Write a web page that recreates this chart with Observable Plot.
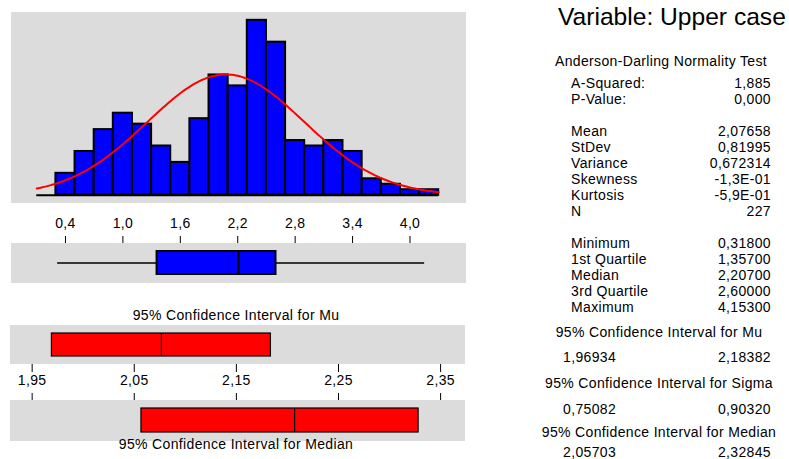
<!DOCTYPE html>
<html><head><meta charset="utf-8">
<script src="https://cdn.jsdelivr.net/npm/d3@7"></script>
<script src="https://cdn.jsdelivr.net/npm/@observablehq/plot@0.6"></script>
<style>
body{margin:0;background:#fff;}
#chart{position:relative;width:789px;height:459px;overflow:hidden;font-family:"Liberation Sans",Arial,sans-serif;}
#chart > svg{position:absolute;}
</style></head><body><div id="chart"></div>
<script>
// ---- data ----
const variableName = "Upper case";
const binStart = [0.1,0.3,0.5,0.7,0.9,1.1,1.3,1.5,1.7,1.9,2.1,2.3,2.5,2.7,2.9,3.1,3.3,3.5,3.7,3.9,4.1];
const binWidth = 0.2;
const counts   = [0,4,8,12,15,13,9,6,14,22,20,32,28,10,9,10,8,3,2,1,1];
const histTicks = [0.4,1.0,1.6,2.2,2.8,3.4,4.0];
const ciTicks = [1.95,2.05,2.15,2.25,2.35];
const mean = 2.07658, stdev = 0.81995, nObs = 227;
const minimum = 0.318, quartile1 = 1.357, median = 2.207, quartile3 = 2.6, maximum = 4.153;
const ciMu = [1.96934, 2.18382];
const ciSigma = [0.75082, 0.90320];
const ciMedian = [2.05703, 2.32845];
const adLabels = ["A-Squared:", "P-Value:"];
const adValues = ["1,885", "0,000"];
const momentLabels = ["Mean","StDev","Variance","Skewness","Kurtosis","N"];
const momentValues = ["2,07658","0,81995","0,672314","-1,3E-01","-5,9E-01","227"];
const quantLabels = ["Minimum","1st Quartile","Median","3rd Quartile","Maximum"];
const quantValues = ["0,31800","1,35700","2,20700","2,60000","4,15300"];
const ciTitles = ["95% Confidence Interval for Mu","95% Confidence Interval for Sigma","95% Confidence Interval for Median"];
const ciValueText = [["1,96934","2,18382"],["0,75082","0,90320"],["2,05703","2,32845"]];

// ---- helpers ----
const comma = f => d => d3.format(f)(d).replace(".", ",");
const GRAY = "#dcdcdc";
const FONT = {fontFamily:"Liberation Sans, Arial, sans-serif", fontSize:"14px", letterSpacing:"0.35px", color:"black", background:"transparent", overflow:"visible"};
const histDomain = [-0.164, 4.58];
const ciDomain = [1.9288, 2.3734];
const chart = document.getElementById("chart");
function place(svg, left, top){ svg.style.left = left+"px"; svg.style.top = top+"px"; chart.appendChild(svg); }

const histData = binStart.map((x0,i)=>({x1:x0, x2:x0+binWidth, count:counts[i]}));
const lastEdge = binStart[binStart.length-1] + binWidth;
const curve = d3.range(binStart[0], lastEdge + 1e-9, 0.02).map(x => ({
  x, y: nObs*binWidth*Math.exp(-0.5*((x-mean)/stdev)**2)/(stdev*Math.sqrt(2*Math.PI))
}));

// ---- histogram ----
place(Plot.plot({
  width:454, height:190, margin:0, style:FONT,
  x:{domain:histDomain, axis:null},
  y:{domain:[-1.34,33.43], axis:null},
  marks:[
    Plot.frame({fill:GRAY, stroke:GRAY}),
    Plot.ruleY([0], {x1:binStart[0], x2:lastEdge, stroke:"black", strokeWidth:2}),
    Plot.rect(histData, {x1:"x1", x2:"x2", y1:0, y2:"count", fill:"#0000ff", stroke:"black", strokeWidth:2}),
    Plot.line(curve, {x:"x", y:"y", stroke:"#ff0000", strokeWidth:2})
  ]
}), 11, 12);

// ---- boxplot with axis ----
const box = [{name:variableName, min:minimum, q1:quartile1, med:median, q3:quartile3, max:maximum}];
place(Plot.plot({
  width:454, height:79, marginTop:40, marginBottom:0, marginLeft:0, marginRight:0, style:FONT,
  x:{domain:histDomain, axis:"top", ticks:histTicks, tickFormat:comma(".1f"), tickSize:8, tickPadding:8, label:null},
  y:{domain:[variableName], padding:0.25, axis:null},
  marks:[
    Plot.frame({fill:GRAY, stroke:GRAY}),
    Plot.ruleY(box, {y:"name", x1:"min", x2:"max", stroke:"black", strokeWidth:1.5}),
    Plot.barX(box, {y:"name", x1:"q1", x2:"q3", fill:"#0000ff", stroke:"black", strokeWidth:2}),
    Plot.tickX(box, {y:"name", x:"med", stroke:"black", strokeWidth:2})
  ]
}), 11, 203);

// ---- CI for Mu ----
const mu = [{name:"Mu", lo:ciMu[0], hi:ciMu[1], c:mean}];
place(Plot.plot({
  width:454, height:62, marginTop:0, marginBottom:24, marginLeft:0, marginRight:0, style:FONT,
  x:{domain:ciDomain, ticks:ciTicks, tickFormat:comma(".2f"), tickSize:9, tickPadding:3, label:null},
  y:{domain:["Mu"], padding:0.24, axis:null},
  marks:[
    Plot.frame({fill:GRAY, stroke:GRAY}),
    Plot.barX(mu, {y:"name", x1:"lo", x2:"hi", fill:"#ff0000", stroke:"black", strokeWidth:1.2}),
    Plot.tickX(mu, {y:"name", x:"c", stroke:"black", strokeWidth:1.2})
  ]
}), 10, 325);

// ---- CI for Median ----
const md = [{name:"Median", lo:ciMedian[0], hi:ciMedian[1], c:median}];
place(Plot.plot({
  width:454, height:48, marginTop:8, marginBottom:0, marginLeft:0, marginRight:0, style:FONT,
  x:{domain:ciDomain, axis:"top", ticks:ciTicks, tickFormat:()=>"", tickSize:8, label:null},
  y:{domain:["Median"], padding:0.24, axis:null},
  marks:[
    Plot.frame({fill:GRAY, stroke:GRAY}),
    Plot.barX(md, {y:"name", x1:"lo", x2:"hi", fill:"#ff0000", stroke:"black", strokeWidth:1.2}),
    Plot.tickX(md, {y:"name", x:"c", stroke:"black", strokeWidth:1.2})
  ]
}), 10, 392);

// ---- text overlay ----
const svg = d3.create("svg").attr("width",789).attr("height",459)
  .style("left","0px").style("top","0px")
  .attr("font-family","Liberation Sans, Arial, sans-serif").attr("font-size",14)
  .style("letter-spacing","0.35px").attr("fill","black");
const t = (x,y,s,anchor="start") => svg.append("text").attr("x",x).attr("y",y).attr("text-anchor",anchor).text(s);
t(236, 319.5, ciTitles[0], "middle");
t(236, 449, ciTitles[2], "middle");
svg.append("text").attr("x",558).attr("y",25).attr("font-size",24.6).style("letter-spacing","0px").text("Variable: " + variableName);
t(661, 66, "Anderson-Darling Normality Test", "middle");
const LX = 571, RX = 771;
adLabels.forEach((l,i)=>{ t(LX, 88+16*i, l); t(RX, 88+16*i, adValues[i], "end"); });
momentLabels.forEach((l,i)=>{ t(LX, 136+16*i, l); t(RX, 136+16*i, momentValues[i], "end"); });
quantLabels.forEach((l,i)=>{ t(LX, 247.5+16*i, l); t(RX, 247.5+16*i, quantValues[i], "end"); });
const hY = [336.5, 388, 437], vY = [362, 413.5, 456.5];
ciTitles.forEach((s,i)=>{ t(659, hY[i], s, "middle"); t(563, vY[i], ciValueText[i][0]); t(RX, vY[i], ciValueText[i][1], "end"); });
chart.appendChild(svg.node());
</script></body></html>
